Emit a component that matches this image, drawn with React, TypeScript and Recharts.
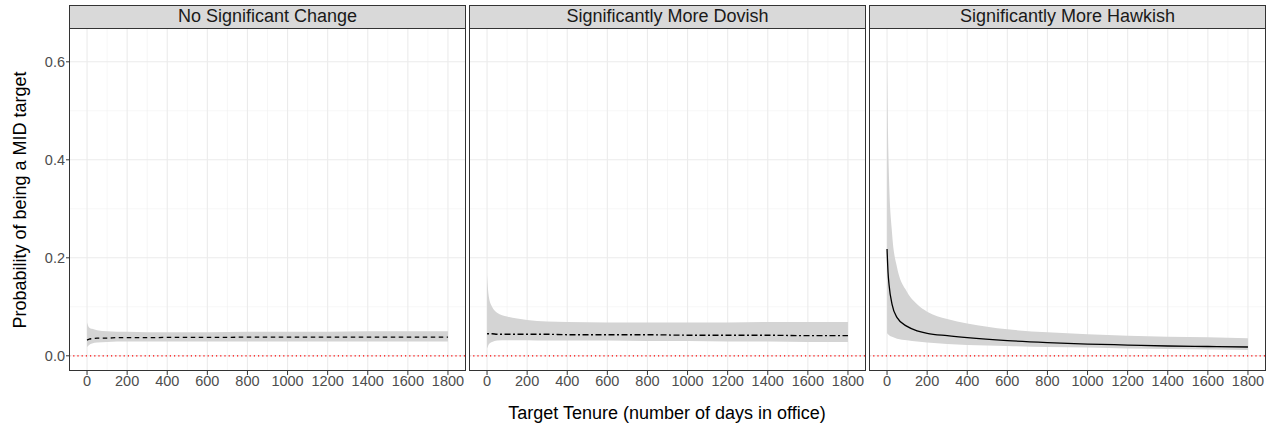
import React from 'react';
import { ComposedChart, Area, Line, XAxis, YAxis, CartesianGrid, ReferenceLine } from 'recharts';

// tenure points (days in office) the predictions were read at
const tenure = [0, 5, 10, 25, 50, 100, 150, 200, 300, 400, 600, 800, 1000, 1200, 1400, 1600, 1800];

const noChangeFit = [0.032, 0.033, 0.034, 0.035, 0.036, 0.036, 0.037, 0.037, 0.037, 0.0375, 0.0375, 0.038, 0.038, 0.038, 0.038, 0.038, 0.038];
const noChangeLower = [0.018, 0.02, 0.022, 0.025, 0.027, 0.028, 0.029, 0.029, 0.029, 0.029, 0.029, 0.029, 0.029, 0.029, 0.029, 0.029, 0.029];
const noChangeUpper = [0.068, 0.062, 0.058, 0.055, 0.052, 0.05, 0.049, 0.049, 0.048, 0.048, 0.048, 0.049, 0.049, 0.049, 0.05, 0.05, 0.05];

const dovishFit = [0.045, 0.045, 0.045, 0.045, 0.044, 0.044, 0.044, 0.044, 0.044, 0.043, 0.043, 0.043, 0.042, 0.042, 0.042, 0.041, 0.041];
const dovishLower = [0.015, 0.02, 0.024, 0.028, 0.031, 0.032, 0.032, 0.032, 0.031, 0.031, 0.031, 0.03, 0.03, 0.029, 0.029, 0.028, 0.028];
const dovishUpper = [0.165, 0.135, 0.118, 0.1, 0.088, 0.08, 0.076, 0.073, 0.07, 0.069, 0.068, 0.068, 0.068, 0.068, 0.069, 0.069, 0.069];

const hawkishFit = [0.218, 0.17, 0.145, 0.105, 0.078, 0.06, 0.051, 0.046, 0.041, 0.037, 0.031, 0.027, 0.024, 0.022, 0.02, 0.019, 0.018];
const hawkishLower = [0.046, 0.044, 0.042, 0.039, 0.035, 0.032, 0.029, 0.027, 0.024, 0.022, 0.02, 0.018, 0.017, 0.015, 0.014, 0.013, 0.012];
const hawkishUpper = [0.62, 0.45, 0.36, 0.25, 0.18, 0.13, 0.105, 0.09, 0.075, 0.066, 0.054, 0.048, 0.044, 0.041, 0.039, 0.038, 0.036];

const xTicks = [0, 200, 400, 600, 800, 1000, 1200, 1400, 1600, 1800];
const xMinor = [100, 300, 500, 700, 900, 1100, 1300, 1500, 1700];
const yTicks = [0, 0.2, 0.4, 0.6];
const yMinor = [0.1, 0.3, 0.5];

const FONT = '"Liberation Sans", Arial, Helvetica, sans-serif';
const PANEL_TOP = 28;
const PANEL_H = 343;
const PANEL_W = 397;
const Y_AXIS_W = 69;

interface PanelProps {
  title: string;
  fit: number[];
  lower: number[];
  upper: number[];
  dash?: string;
  left: number;
  showY: boolean;
}

const Panel: React.FC<PanelProps> = ({ title, fit, lower, upper, dash, left, showY }) => {
  const data = tenure.map((t, i) => ({ tenure: t, fit: fit[i], band: [lower[i], upper[i]] }));
  const yw = showY ? Y_AXIS_W : 0;
  const chartLeft = left - yw;

  return (
    <>
      <div style={{ position: 'absolute', left: chartLeft, top: 0 }}>
        <ComposedChart
          width={PANEL_W + yw}
          height={427}
          data={data}
          margin={{ top: PANEL_TOP, right: 0, bottom: 0, left: 0 }}
        >
          <CartesianGrid horizontalValues={yMinor} verticalValues={xMinor} stroke="#f0f0f0" strokeWidth={0.6} fill="none" />
          <CartesianGrid horizontalValues={yTicks} verticalValues={xTicks} stroke="#ebebeb" strokeWidth={1.1} fill="none" />
          <XAxis
            dataKey="tenure"
            type="number"
            domain={[-90, 1890]}
            ticks={xTicks}
            interval={0}
            allowDataOverflow
            axisLine={false}
            tickLine={{ stroke: '#333333' }}
            tickSize={4}
            tickMargin={1}
            height={56}
            tick={{ fontSize: 14.5, fill: '#4d4d4d', fontFamily: FONT }}
          />
          <YAxis
            type="number"
            domain={[-0.031, 0.669]}
            ticks={yTicks}
            allowDataOverflow
            hide={!showY}
            width={Y_AXIS_W}
            axisLine={false}
            tickLine={{ stroke: '#333333' }}
            tickSize={3}
            tickMargin={1}
            tickFormatter={(v: number) => v.toFixed(1)}
            tick={{ fontSize: 14.5, fill: '#4d4d4d', fontFamily: FONT }}
          />
          <Area
            type="monotone"
            dataKey="band"
            stroke="none"
            fill="#d4d4d4"
            fillOpacity={1}
            isAnimationActive={false}
          />
          <ReferenceLine y={0} stroke="#ff0000" strokeDasharray="1.2 3" strokeWidth={1.2} />
          <Line
            type="monotone"
            dataKey="fit"
            stroke="#000000"
            strokeWidth={1.3}
            strokeDasharray={dash}
            dot={false}
            isAnimationActive={false}
          />
        </ComposedChart>
      </div>
      {/* panel border */}
      <div
        style={{
          position: 'absolute',
          left,
          top: PANEL_TOP,
          width: PANEL_W,
          height: PANEL_H,
          border: '1.2px solid #333333',
          boxSizing: 'border-box',
          pointerEvents: 'none',
        }}
      />
      {/* facet strip */}
      <div
        style={{
          position: 'absolute',
          left,
          top: 5,
          width: PANEL_W,
          height: 24,
          background: '#d9d9d9',
          border: '1.2px solid #333333',
          boxSizing: 'border-box',
          textAlign: 'center',
          fontSize: 18,
          lineHeight: '21px',
          color: '#1a1a1a',
          whiteSpace: 'nowrap',
        }}
      >
        {title}
      </div>
    </>
  );
};

const App: React.FC = () => {
  return (
    <div
      style={{
        position: 'absolute',
        left: 0,
        top: 0,
        width: 1266,
        height: 427,
        background: '#ffffff',
        fontFamily: FONT,
        overflow: 'hidden',
      }}
    >
      <Panel title="No Significant Change" fit={noChangeFit} lower={noChangeLower} upper={noChangeUpper} dash="4.5 3.5" left={69} showY />
      <Panel title="Significantly More Dovish" fit={dovishFit} lower={dovishLower} upper={dovishUpper} dash="2 2.5 6 2.5" left={469} showY={false} />
      <Panel title="Significantly More Hawkish" fit={hawkishFit} lower={hawkishLower} upper={hawkishUpper} left={869} showY={false} />

      <div
        style={{
          position: 'absolute',
          left: 20 - 150,
          top: 199.5 - 11,
          width: 300,
          height: 22,
          lineHeight: '22px',
          textAlign: 'center',
          fontSize: 18,
          color: '#000000',
          transform: 'rotate(-90deg)',
          whiteSpace: 'nowrap',
        }}
      >
        Probability of being a MID target
      </div>
      <div
        style={{
          position: 'absolute',
          left: 667 - 250,
          top: 413 - 11,
          width: 500,
          height: 22,
          lineHeight: '22px',
          textAlign: 'center',
          fontSize: 18,
          color: '#000000',
          whiteSpace: 'nowrap',
        }}
      >
        Target Tenure (number of days in office)
      </div>
    </div>
  );
};

export default App;
